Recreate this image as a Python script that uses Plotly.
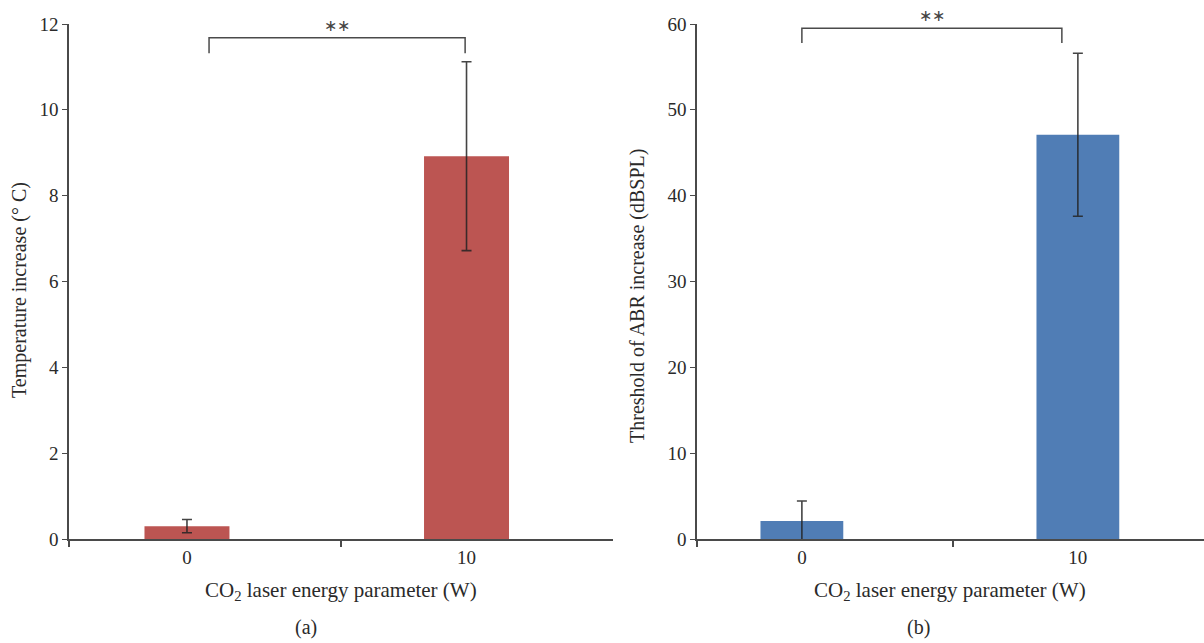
import plotly.graph_objects as go

# ---- data ----
categories = ["0", "10"]
temp_increase = [0.30, 8.92]
temp_err = [0.155, 2.2]
abr_increase = [2.1, 47.1]
abr_err = [2.33, 9.5]
yticks_a = [0, 2, 4, 6, 8, 10, 12]
yticks_b = [0, 10, 20, 30, 40, 50, 60]
x_title = "CO<sub>2</sub> laser energy parameter (W)"
y_title_a = "Temperature increase (° C)"
y_title_b = "Threshold of ABR increase (dBSPL)"
sig_label = "∗∗"
# significance brackets: (x_left, x_right, y_top, y_leg_bottom) in data units
bracket_a = (0.079, 0.995, 11.68, 11.32)
bracket_b = (0.0, 0.942, 59.5, 57.8)

W, H = 1204, 643
RED = "#BC5552"
BLUE = "#507DB5"
AX = "#4a4a4a"
FONT = "Liberation Serif"
TXT = "#2a2a2a"

def px_x(p):
    return p / W

def px_y(p):
    return 1 - p / H

xpos = list(range(len(categories)))

fig = go.Figure()
fig.add_trace(go.Bar(
    x=xpos, y=temp_increase, width=0.304, marker=dict(color=RED, line=dict(width=0)),
    error_y=dict(type="data", array=temp_err, visible=True, color="rgba(35,35,35,0.85)", thickness=1.6, width=5),
    xaxis="x", yaxis="y", showlegend=False))
fig.add_trace(go.Bar(
    x=xpos, y=abr_increase, width=0.30, marker=dict(color=BLUE, line=dict(width=0)),
    error_y=dict(type="data", array=abr_err, visible=True, color="rgba(35,35,35,0.85)", thickness=1.6, width=5),
    xaxis="x2", yaxis="y2", showlegend=False))

ydom = [px_y(539), px_y(24)]
common_x = dict(showline=True, linecolor=AX, linewidth=1.5, ticks="outside", ticklen=0,
                tickmode="array", tickvals=xpos, ticktext=categories, showgrid=False, zeroline=False,
                tickfont=dict(family=FONT, size=19, color=TXT), fixedrange=True, automargin=False)
common_y = dict(showline=True, linecolor=AX, linewidth=1.5, ticks="outside", ticklen=5, tickcolor=AX,
                showgrid=False, zeroline=False, tickfont=dict(family=FONT, size=19, color=TXT),
                tickmode="array", fixedrange=True, automargin=False)

fig.update_layout(
    width=W, height=H, margin=dict(l=0, r=0, t=0, b=0, autoexpand=False),
    paper_bgcolor="white", plot_bgcolor="white",
    font=dict(family=FONT, color=TXT),
    xaxis=dict(domain=[px_x(69), px_x(613)], range=[-0.422, 1.524], anchor="y",
               minor=dict(tickmode="array", tickvals=[-0.422, 0.551], ticks="outside", ticklen=6, tickcolor=AX, tickwidth=1.5),
               **common_x),
    yaxis=dict(domain=ydom, range=[0, 12], anchor="x", tickvals=yticks_a, **common_y),
    xaxis2=dict(domain=[px_x(697), 1.0], range=[-0.380, 1.457], anchor="y2",
                minor=dict(tickmode="array", tickvals=[-0.380, 0.547], ticks="outside", ticklen=6, tickcolor=AX, tickwidth=1.5),
                **common_x),
    yaxis2=dict(domain=ydom, range=[0, 60], anchor="x2", tickvals=yticks_b, **common_y),
)

shapes = []
for (xl, xr, yt, yb), xr_, yr_ in [(bracket_a, "x", "y"), (bracket_b, "x2", "y2")]:
    shapes.append(dict(type="path", xref=xr_, yref=yr_,
                       path=f"M {xl} {yb} L {xl} {yt} L {xr} {yt} L {xr} {yb}",
                       line=dict(color=AX, width=1.5)))
fig.update_layout(shapes=shapes)

def paper_text(xp, yp, text, size, angle=0):
    return dict(x=px_x(xp), y=px_y(yp), xref="paper", yref="paper", text=text, showarrow=False,
                xanchor="center", yanchor="middle", textangle=angle,
                font=dict(family=FONT, size=size, color=TXT))

ann = []
ann.append(dict(x=(bracket_a[0] + bracket_a[1]) / 2, y=bracket_a[2], xref="x", yref="y", text=sig_label,
                showarrow=False, xanchor="center", yanchor="bottom", yshift=2,
                font=dict(family=FONT, size=16, color="#444")))
ann.append(dict(x=(bracket_b[0] + bracket_b[1]) / 2, y=bracket_b[2], xref="x2", yref="y2", text=sig_label,
                showarrow=False, xanchor="center", yanchor="bottom", yshift=2,
                font=dict(family=FONT, size=16, color="#444")))
ann.append(paper_text(341, 591, x_title, 21))
ann.append(paper_text(950, 591, x_title, 21))
ann.append(paper_text(20, 290, y_title_a, 20, -90))
ann.append(paper_text(637, 296, y_title_b, 20, -90))
ann.append(paper_text(306, 627, "(a)", 20))
ann.append(paper_text(918, 627, "(b)", 20))
fig.update_layout(annotations=ann)

fig.write_html("out.html", config={"displayModeBar": False},
               post_script="document.body.style.margin='0';")
